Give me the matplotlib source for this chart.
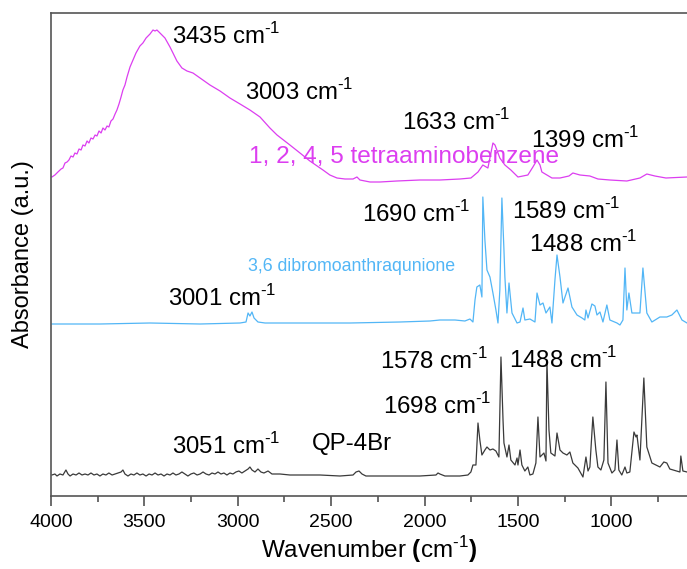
import matplotlib
matplotlib.use("Agg")
import matplotlib.pyplot as plt
from matplotlib.ticker import MultipleLocator

plt.rcParams['font.family'] = ['Liberation Sans', 'DejaVu Sans']
plt.rcParams['mathtext.fontset'] = 'custom'
plt.rcParams['mathtext.rm'] = 'Liberation Sans'
plt.rcParams['mathtext.bf'] = 'Liberation Sans:bold'

# ---- data (wavenumber in cm^-1, absorbance in a.u. with vertical offsets) ----
tab_wn = [3995, 3979, 3963, 3946, 3936, 3925, 3914, 3904, 3893, 3882, 3872, 3861, 3850, 3839,
          3829, 3818, 3807, 3797, 3786, 3775, 3764, 3754, 3743, 3732, 3722, 3711, 3700, 3690,
          3679, 3668, 3657, 3647, 3636, 3625, 3615, 3604, 3593, 3577, 3561, 3545, 3524, 3508,
          3491, 3470, 3454, 3443, 3433, 3422, 3406, 3390, 3363,
          3347, 3326, 3299, 3272, 3240, 3202, 3149, 3095, 3042, 2988, 2935, 2881, 2828, 2790,
          2721, 2667, 2614, 2544, 2507, 2469, 2426, 2383, 2362, 2346, 2292, 2239, 2148, 2025,
          1918, 1811, 1752, 1714, 1688, 1661, 1634, 1623, 1597, 1570, 1538, 1500, 1447, 1420,
          1398, 1382, 1372, 1318, 1275, 1227, 1206, 1168, 1115, 1072, 1008, 917, 847, 810,
          767, 708, 595]
tab_abs = [3.19, 3.21, 3.24, 3.27, 3.28, 3.33, 3.34, 3.36, 3.40, 3.39, 3.43, 3.42, 3.47, 3.46,
           3.51, 3.50, 3.55, 3.53, 3.58, 3.57, 3.61, 3.60, 3.65, 3.63, 3.68, 3.66, 3.70, 3.69,
           3.75, 3.77, 3.82, 3.86, 3.92, 3.99, 4.06, 4.11, 4.19, 4.29, 4.36, 4.43, 4.50, 4.53,
           4.58, 4.62, 4.66, 4.65, 4.66, 4.64, 4.61, 4.58, 4.49,
           4.43, 4.35, 4.28, 4.25, 4.23, 4.18, 4.11, 4.05, 3.98, 3.92, 3.86, 3.79, 3.68, 3.61,
           3.51, 3.43, 3.35, 3.26, 3.21, 3.18, 3.17, 3.17, 3.19, 3.16, 3.14, 3.14, 3.15, 3.16,
           3.16, 3.17, 3.18, 3.24, 3.31, 3.28, 3.53, 3.51, 3.38, 3.31, 3.26, 3.19, 3.21, 3.29,
           3.36, 3.31, 3.24, 3.18, 3.18, 3.20, 3.23, 3.21, 3.20, 3.17, 3.16, 3.15, 3.18, 3.22,
           3.20, 3.18, 3.19]

dba_wn = [3995, 3738, 3470, 3202, 2988, 2956, 2945, 2935, 2924, 2913, 2892, 2854, 2667, 2399,
          2132, 1971, 1918, 1837, 1784, 1757, 1741, 1730, 1720, 1704, 1693, 1688, 1677, 1666,
          1650, 1634, 1618, 1607, 1597, 1586, 1575, 1570, 1559, 1548, 1532, 1505, 1489, 1473,
          1463, 1436, 1409, 1398, 1382, 1366, 1350, 1329, 1318, 1302, 1291, 1275, 1259, 1232,
          1211, 1184, 1157, 1142, 1136, 1125, 1104, 1088, 1077, 1061, 1045, 1024, 1008, 970,
          954, 938, 927, 917, 906, 890, 847, 831, 810, 783, 740, 703, 676, 649, 622, 595]
dba_abs = [1.72, 1.72, 1.73, 1.72, 1.73, 1.74, 1.83, 1.80, 1.84, 1.78, 1.74, 1.73, 1.73, 1.73,
           1.74, 1.75, 1.76, 1.76, 1.75, 1.77, 1.74, 1.96, 2.09, 2.11, 1.99, 2.99, 2.56, 2.26,
           2.19, 2.03, 1.86, 1.73, 2.06, 2.98, 2.46, 2.19, 1.83, 2.13, 1.83, 1.73, 1.74, 1.88,
           1.76, 1.77, 1.74, 2.03, 1.91, 1.93, 1.83, 1.89, 1.73, 2.16, 2.41, 2.19, 1.93, 2.08,
           1.89, 1.81, 1.78, 1.76, 1.86, 1.78, 1.92, 1.90, 1.81, 1.84, 1.74, 1.91, 1.76, 1.73,
           1.71, 1.76, 2.28, 1.86, 2.03, 1.83, 1.83, 2.28, 1.83, 1.74, 1.79, 1.79, 1.81, 1.86,
           1.76, 1.73]

qp_wn = [3995, 3979, 3968, 3952, 3936, 3920, 3909, 3898, 3882, 3866, 3850, 3834, 3818, 3802,
         3786, 3770, 3754, 3738, 3722, 3706, 3690, 3673, 3657, 3641, 3625, 3615, 3604, 3588,
         3572, 3556, 3540, 3524, 3508, 3491, 3475, 3459, 3443, 3427, 3411, 3395, 3379, 3363,
         3347, 3331, 3315, 3299, 3283, 3267, 3251, 3235, 3218, 3202, 3186, 3170, 3154, 3138,
         3122, 3106, 3090, 3074, 3058, 3042, 3026, 3010, 2994, 2978, 2962, 2945, 2935, 2924,
         2908, 2892, 2876, 2860, 2838, 2817, 2774, 2721, 2667, 2560, 2453, 2383, 2367, 2351,
         2335, 2314, 2239, 2132, 2025, 1939, 1928, 1918, 1891, 1811, 1768, 1752,
         1741, 1725, 1714, 1704, 1693, 1677, 1666, 1650, 1634, 1618, 1602, 1591, 1580,
         1575, 1559, 1548, 1538, 1516, 1505, 1500, 1489, 1479, 1463, 1447, 1436, 1420, 1404,
         1393, 1382, 1361, 1350, 1345, 1334, 1324, 1302, 1291, 1275, 1259, 1238, 1222, 1206,
         1179, 1152, 1136, 1125, 1115, 1099, 1083, 1072, 1056, 1040, 1029, 1018, 997, 981,
         970, 960, 944, 927, 917, 901, 879, 868, 863, 847, 826, 810, 783, 740, 719, 703,
         687, 633, 628, 617, 595]
qp_abs = [0.21, 0.22, 0.20, 0.22, 0.21, 0.26, 0.22, 0.20, 0.22, 0.21, 0.23, 0.21, 0.22, 0.21,
          0.23, 0.21, 0.22, 0.20, 0.22, 0.21, 0.23, 0.21, 0.22, 0.23, 0.24, 0.26, 0.22, 0.20,
          0.22, 0.21, 0.23, 0.21, 0.22, 0.20, 0.22, 0.21, 0.23, 0.21, 0.22, 0.20, 0.22, 0.21,
          0.23, 0.21, 0.22, 0.24, 0.22, 0.20, 0.22, 0.23, 0.21, 0.22, 0.24, 0.22, 0.21, 0.23,
          0.22, 0.24, 0.22, 0.23, 0.21, 0.23, 0.22, 0.24, 0.25, 0.23, 0.25, 0.27, 0.29, 0.26,
          0.24, 0.27, 0.24, 0.23, 0.25, 0.22, 0.22, 0.21, 0.21, 0.21, 0.20, 0.21, 0.24, 0.25,
          0.22, 0.20, 0.20, 0.20, 0.20, 0.21, 0.23, 0.22, 0.20, 0.20, 0.21, 0.24,
          0.31, 0.31, 0.73, 0.56, 0.41, 0.46, 0.49, 0.46, 0.47, 0.45, 0.39, 1.39, 0.76,
          0.53, 0.39, 0.51, 0.36, 0.31, 0.38, 0.31, 0.46, 0.31, 0.25, 0.29, 0.21, 0.22, 0.33,
          0.79, 0.39, 0.43, 0.35, 1.36, 0.66, 0.43, 0.40, 0.63, 0.46, 0.43, 0.41, 0.44, 0.33,
          0.28, 0.19, 0.39, 0.25, 0.29, 0.79, 0.46, 0.29, 0.26, 0.36, 1.14, 0.33, 0.23, 0.26,
          0.56, 0.26, 0.21, 0.29, 0.23, 0.24, 0.64, 0.59, 0.61, 0.36, 1.18, 0.49, 0.33, 0.29,
          0.34, 0.33, 0.27, 0.24, 0.40, 0.25, 0.24]

x_ticks = [4000, 3500, 3000, 2500, 2000, 1500, 1000]

c_tab = '#dc3ef0'
c_dba = '#52b6f6'
c_qp = '#3a3a3a'

W, H = 687, 569
fig = plt.figure(figsize=(W / 100, H / 100), dpi=100)
ax = fig.add_axes([51 / W, (H - 496) / H, (W - 51) / W, (496 - 13) / H])

ax.plot(tab_wn, tab_abs, color=c_tab, lw=0.9, clip_on=False)
ax.plot(dba_wn, dba_abs, color=c_dba, lw=0.9, clip_on=False)
ax.plot(qp_wn, qp_abs, color=c_qp, lw=0.9, clip_on=False)

ax.set_xlim(4000, 595)
ax.set_ylim(0, 4.83)
ax.set_xticks(x_ticks)
ax.xaxis.set_minor_locator(MultipleLocator(250))
ax.set_yticks([])
ax.tick_params(axis='x', which='major', direction='out', length=7, width=1.1,
               labelsize=14, color='#444444', pad=6)
ax.tick_params(axis='x', which='minor', direction='out', length=4, width=1.1, color='#444444')
for s in ['left', 'bottom', 'top']:
    ax.spines[s].set_color('#555555')
    ax.spines[s].set_linewidth(1.2)
ax.spines['right'].set_visible(False)

ax.set_xlabel(r'Wavenumber $\mathbf{(}$cm$^{\text{-1}}$$\mathbf{)}$', fontsize=17.5, labelpad=2)
ax.set_ylabel('Absorbance (a.u.)', fontsize=17, labelpad=12)

def px2data(px, py):
    return 4000 - (px - 51) * 5.353, (496 - py) / 100

def label(px, py, s, color='black', size=17.3):
    x, y = px2data(px, py)
    ax.text(x, y, s, color=color, fontsize=size, ha='left', va='center')

cm = r' cm$^{\text{-1}}$'
label(172, 36, '3435' + cm)
label(245, 92, '3003' + cm)
label(249, 157, '1, 2, 4, 5 tetraaminobenzene', color=c_tab, size=17.6)
label(402, 122, '1633' + cm)
label(531, 140, '1399' + cm)
label(362, 214, '1690' + cm)
label(512, 211, '1589' + cm)
label(529, 244, '1488' + cm)
label(248, 266, '3,6 dibromoanthraqunione', color=c_dba, size=12.8)
label(168, 298, '3001' + cm)
label(380, 361, '1578' + cm)
label(509, 360, '1488' + cm)
label(383, 406, '1698' + cm)
label(172, 446, '3051' + cm)
label(312, 444, 'QP-4Br')

fig.savefig('out.png', dpi=100)
